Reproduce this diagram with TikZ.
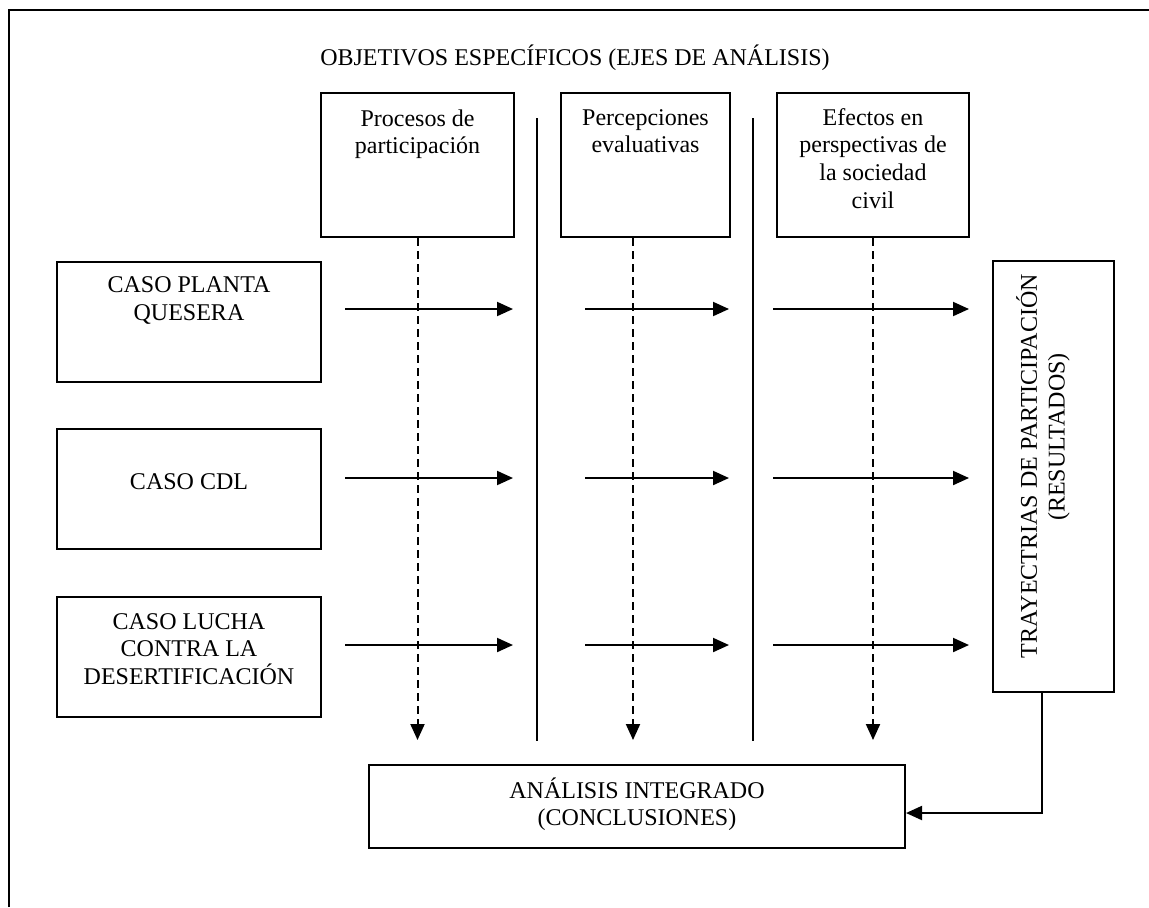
\documentclass[tikz,border=0pt]{standalone}
\usepackage{fontspec}
\setmainfont{Liberation Serif}
\usepackage{tikz}
\usetikzlibrary{positioning}
\usetikzlibrary{arrows.meta}

\begin{document}
\begin{tikzpicture}[x=0.5pt, y=-0.5pt, font=\fontsize{12}{13.8}\selectfont]
\tikzstyle{box} = [rectangle, draw, line width=1pt, inner sep=0pt]
\tikzstyle{txt} = [align=center, inner sep=0pt]
\tikzstyle{arrow} = [line width=1pt, -{Triangle[length=8pt, width=7pt]}]
\tikzstyle{dasharrow} = [arrow, dash pattern=on 4pt off 2.5pt]

\useasboundingbox (0,0) rectangle (1149,907);
\draw [line width=1.4pt] (9,907) -- (9,10) -- (1149,10);

\node (title) [anchor=base, inner sep=0pt] at (575,65) {OBJETIVOS ESPECÍFICOS (EJES DE ANÁLISIS)};

% ejes de analisis
\node (proc) [box, minimum width=96.5pt, minimum height=72pt] at (417.5,165) {};
\node (perc) [box, minimum width=84.5pt, minimum height=72pt] at (645.5,165) {};
\node (efec) [box, minimum width=96pt, minimum height=72pt] at (873,165) {};
\node (procT) [txt, below=8.5pt of proc.north] {Procesos de\\participación};
\node (percT) [txt, below=8.5pt of perc.north] {Percepciones\\evaluativas};
\node (efecT) [txt, below=8pt of efec.north] {Efectos en\\perspectivas de\\la sociedad\\civil};

% casos
\node (plq) [box, minimum width=132pt, minimum height=60pt] at (189,321.5) {};
\node (cdl) [box, minimum width=132pt, minimum height=60pt] at (189,489) {};
\node (lucha) [box, minimum width=132pt, minimum height=60pt] at (189,657) {};
\node (plqT) [txt, below=8pt of plq.north] {CASO PLANTA\\QUESERA};
\node (cdlT) [txt, below=22.5pt of cdl.north] {CASO CDL};
\node (luchaT) [txt, below=8.5pt of lucha.north] {CASO LUCHA\\CONTRA LA\\DESERTIFICACIÓN};

\node (res) [box, minimum width=60.5pt, minimum height=215.5pt] at (1053.5,476.5) {};
\node (resT) [txt, rotate=90] at (1043,466) {TRAYECTRIAS DE PARTICIPACIÓN\\\hspace*{29pt}(RESULTADOS)};

\node (ana) [box, minimum width=268pt, minimum height=41.5pt] at (637,806.5) {};
\node (anaT) [txt, below=6.5pt of ana.north] {ANÁLISIS INTEGRADO\\(CONCLUSIONES)};

% separadores
\coordinate (v1a) at (537,118);
\coordinate (v1b) at (537,741);
\coordinate (v2a) at (753,118);
\coordinate (v2b) at (753,741);
\draw [line width=1pt] (v1a) -- (v1b);
\draw [line width=1pt] (v2a) -- (v2b);

% flechas punteadas
\coordinate (d1) at (417,740);
\coordinate (d2) at (633,740);
\coordinate (d3) at (873,740);
\draw [dasharrow] (proc.south) -- (proc.south |- d1);
\draw [dasharrow] (perc.south -| d2) -- (d2);
\draw [dasharrow] (efec.south) -- (efec.south |- d3);

% flechas de casos
\coordinate (s1) at (345,0);
\coordinate (e1) at (513,0);
\coordinate (s2) at (585,0);
\coordinate (e2) at (729,0);
\coordinate (s3) at (773,0);
\coordinate (e3) at (969,0);
\coordinate (r1) at (0,309);
\coordinate (r2) at (0,478);
\coordinate (r3) at (0,645);
\draw [arrow] (s1 |- r1) -- (e1 |- r1);
\draw [arrow] (s2 |- r1) -- (e2 |- r1);
\draw [arrow] (s3 |- r1) -- (e3 |- r1);
\draw [arrow] (s1 |- r2) -- (e1 |- r2);
\draw [arrow] (s2 |- r2) -- (e2 |- r2);
\draw [arrow] (s3 |- r2) -- (e3 |- r2);
\draw [arrow] (s1 |- r3) -- (e1 |- r3);
\draw [arrow] (s2 |- r3) -- (e2 |- r3);
\draw [arrow] (s3 |- r3) -- (e3 |- r3);

\draw [arrow] ([xshift=-5.75pt]res.south) |- ([yshift=-3.25pt]ana.east);
\end{tikzpicture}
\end{document}
